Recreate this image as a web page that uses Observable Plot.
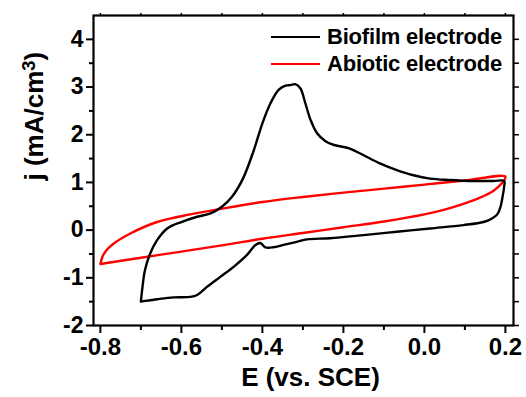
<!DOCTYPE html>
<html>
<head>
<meta charset="utf-8">
<script src="https://cdn.jsdelivr.net/npm/d3@7"></script>
<script src="https://cdn.jsdelivr.net/npm/@observablehq/plot@0.6"></script>
<style>
  html, body { margin: 0; padding: 0; background: #fff; }
  #wrap { position: relative; width: 526px; height: 397px; font-family: "Liberation Sans", Arial, sans-serif; font-weight: bold; }
  #legend { position: absolute; left: 271px; top: 23px; }
  .row { display: flex; align-items: center; height: 27px; }
  .swatch { width: 49px; height: 0; border-top: 2.4px solid; margin-right: 7px; }
  .lab { font-size: 22px; letter-spacing: -0.2px; line-height: 27px; color: #000; }
</style>
</head>
<body>
<div id="wrap"></div>
<script>
// Biofilm electrode (black) CV loop: E (V vs SCE), j (mA/cm3)
const E_bio = [-0.700,-0.697,-0.690,-0.677,-0.660,-0.635,-0.600,-0.561,-0.528,-0.500,-0.475,-0.448,-0.421,-0.400,-0.380,-0.360,-0.343,-0.331,-0.319,-0.306,-0.294,-0.281,-0.265,-0.245,-0.225,-0.184,-0.150,-0.110,-0.068,-0.027,0.014,0.063,0.113,0.170,0.197,
  0.197,0.193,0.188,0.180,0.166,0.146,0.096,0.014,-0.068,-0.150,-0.233,-0.290,-0.315,-0.348,-0.373,-0.393,-0.405,-0.417,-0.438,-0.471,-0.504,-0.537,-0.561,-0.578,-0.619,-0.660,-0.693,-0.700];
const j_bio = [-1.50,-1.26,-0.84,-0.49,-0.21,0.035,0.17,0.28,0.35,0.49,0.70,1.08,1.68,2.24,2.66,2.94,3.03,3.04,3.06,2.97,2.66,2.31,2.03,1.87,1.79,1.71,1.57,1.40,1.26,1.15,1.08,1.05,1.03,1.03,1.03,
  0.92,0.70,0.49,0.33,0.24,0.17,0.105,0.035,-0.035,-0.105,-0.17,-0.195,-0.245,-0.31,-0.36,-0.36,-0.27,-0.31,-0.52,-0.77,-0.98,-1.19,-1.36,-1.40,-1.41,-1.45,-1.49,-1.50];
// Abiotic electrode (red) CV loop
const E_abi = [-0.800,-0.700,-0.600,-0.500,-0.400,-0.300,-0.200,-0.100,0.000,0.050,0.100,0.140,0.170,0.190,0.200,
  0.100,0.000,-0.100,-0.200,-0.300,-0.400,-0.500,-0.578,-0.660,-0.726,-0.767,-0.785,-0.795,-0.800];
const j_abi = [-0.71,-0.58,-0.45,-0.32,-0.18,-0.06,0.06,0.18,0.33,0.43,0.56,0.69,0.82,0.97,1.12,
  1.04,0.955,0.87,0.785,0.695,0.59,0.45,0.33,0.17,-0.07,-0.28,-0.42,-0.56,-0.71];

const xTicks = [-0.8,-0.6,-0.4,-0.2,0.0,0.2];
const xMinor = [-0.7,-0.5,-0.3,-0.1,0.1];
const yTicks = [-2,-1,0,1,2,3,4];
const yMinor = [-1.5,-0.5,0.5,1.5,2.5,3.5];
const xLabel = "E (vs. SCE)";
const yLabelMain = "j (mA/cm";
const yLabelSup = "3";
const yLabelEnd = ")";
const legendLabels = ["Biofilm electrode","Abiotic electrode"];
const seriesColors = ["#000000","#ff0000"];

const bio = E_bio.map((e,i)=>({E:e, j:j_bio[i]}));
const abi = E_abi.map((e,i)=>({E:e, j:j_abi[i]}));
const blank = () => "";
const yLabel = yLabelMain + yLabelSup + yLabelEnd;

const chart = Plot.plot({
  width: 526, height: 397,
  marginLeft: 93, marginRight: 13, marginTop: 15, marginBottom: 72,
  x: {domain: [-0.817, 0.22]},
  y: {domain: [-2, 4.5]},
  style: {fontFamily: "'Liberation Sans', Arial, sans-serif", fontWeight: "bold", background: "white", color: "black"},
  marks: [
    Plot.line(abi, {x: "E", y: "j", stroke: seriesColors[1], strokeWidth: 2.4, curve: "catmull-rom"}),
    Plot.line(bio, {x: "E", y: "j", stroke: seriesColors[0], strokeWidth: 2.4, curve: "catmull-rom"}),
    Plot.frame({stroke: "black", strokeWidth: 2.2}),
    Plot.axisX({ticks: xTicks, tickSize: 8, tickPadding: 4, tickFormat: d => d.toFixed(1), fontSize: 24, label: null, strokeWidth: 2}),
    Plot.axisX({ticks: xMinor, tickSize: 5, tickFormat: blank, label: null, strokeWidth: 2}),
    Plot.axisX({anchor: "top", ticks: xTicks.concat(xMinor), tickSize: 3, tickFormat: blank, label: null, strokeWidth: 1.5}),
    Plot.axisY({ticks: yTicks, tickSize: 7, tickPadding: 3, tickFormat: d => String(d), fontSize: 23, label: null, strokeWidth: 2}),
    Plot.axisY({ticks: yMinor, tickSize: 4, tickFormat: blank, label: null, strokeWidth: 2}),
    Plot.axisY({anchor: "right", ticks: yTicks.concat(yMinor), tickSize: 5, tickFormat: blank, label: null, strokeWidth: 1.5}),
    Plot.text([xLabel], {frameAnchor: "bottom", dx: 7, dy: 52, fontSize: 26, lineAnchor: "middle"}),
    Plot.text([yLabel], {frameAnchor: "left", dx: -59, dy: 10, rotate: -90, fontSize: 26, lineAnchor: "middle"})
  ]
});

// Render the "3" of the y label as a superscript
d3.select(chart).selectAll("text").filter(function() { return this.textContent === yLabel; }).each(function() {
  const t = d3.select(this);
  t.text(null);
  t.append("tspan").text(yLabelMain);
  t.append("tspan").attr("dy", "-0.42em").attr("font-size", "0.7em").text(yLabelSup);
  t.append("tspan").attr("dy", "0.29em").text(yLabelEnd);
});

const wrap = document.getElementById("wrap");
wrap.appendChild(chart);
const legend = d3.select(wrap).append("div").attr("id", "legend");
legendLabels.forEach((lab, i) => {
  const row = legend.append("div").attr("class", "row");
  row.append("div").attr("class", "swatch").style("border-top-color", seriesColors[i]);
  row.append("div").attr("class", "lab").text(lab);
});
</script>
</body>
</html>
